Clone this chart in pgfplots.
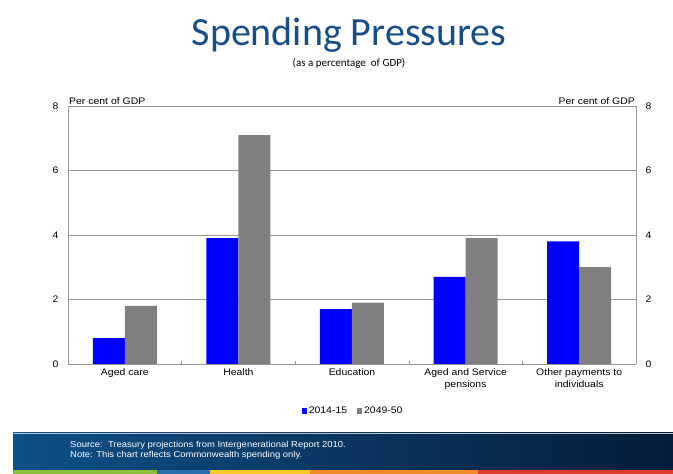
\documentclass[border=0pt]{standalone}
\usepackage{fontspec}
\setmainfont{Liberation Sans}[FakeStretch=1.1]
\newfontfamily\titlefont{Carlito}
\usepackage{pgfplots}
\usepackage{pgfplotstable}
\pgfplotsset{compat=1.18}

\definecolor{titleblue}{RGB}{22,78,138}
\definecolor{gridgrey}{RGB}{150,150,150}
\definecolor{barblue}{RGB}{0,0,255}
\definecolor{bargrey}{RGB}{128,128,128}
\definecolor{bandleft}{RGB}{14,80,135}
\definecolor{bandright}{RGB}{6,28,58}
\definecolor{stripgreen}{RGB}{140,190,60}
\definecolor{stripblue}{RGB}{40,110,170}
\definecolor{stripyellow}{RGB}{250,200,40}
\definecolor{striporange}{RGB}{240,140,40}
\definecolor{stripred}{RGB}{220,60,50}

% spending as % of GDP: 2014-15 (a), 2049-50 (b)
\pgfplotstableread{
x a b
0 0.8 1.8
1 3.9 7.1
2 1.7 1.9
3 2.7 3.9
4 3.8 3.0
}\spending

\begin{document}
\begin{tikzpicture}[x=1pt,y=1pt]
\useasboundingbox (0,0) rectangle (673,474);
\fill[white] (0,0) rectangle (673,474);

\node[titleblue] at (349,474-35) {\titlefont\fontsize{40}{40}\selectfont Spending Pressures};
\node at (349,474-63) {\titlefont\fontsize{11}{12}\selectfont (as a percentage\ \ of GDP)};

\begin{axis}[
    at={(68pt,110pt)}, anchor=south west,
    scale only axis, width=568pt, height=258pt,
    xmin=-0.5, xmax=4.5, ymin=0, ymax=8,
    ybar=0pt, bar width=32pt,
    xtick={0,...,4},
    xticklabels={Aged care,Health,Education,{Aged and Service\\pensions},{Other payments to\\individuals}},
    xticklabel style={align=center, font=\fontsize{9.5}{12}\selectfont, yshift=-1pt},
    extra x ticks={0.5,1.5,2.5,3.5}, extra x tick labels={},
    extra x tick style={major tick length=3pt, tick style={gridgrey}},
    major tick length=0pt,
    tick align=inside,
    ytick={0,2,4,6,8},
    yticklabel style={font=\fontsize{9.5}{10}\selectfont, xshift=-6pt},
    /pgf/number format/assume math mode=true,
    ymajorgrids, grid style={gridgrey, line width=0.8pt},
    axis line style={gridgrey, line width=0.8pt},
    axis x line*=bottom, axis y line*=left,
    legend style={at={(0.502,-0.15)}, anchor=north, draw=none, fill=none,
        font=\fontsize{9.5}{10}\selectfont, legend columns=2,
        /tikz/every even column/.append style={column sep=8pt}},
    legend image code/.code={\fill[#1] (0pt,-3pt) rectangle (5pt,2.5pt);},
    legend cell align=left,
    clip=false,
]
\addplot[fill=barblue, draw=none] table[x=x,y=a] {\spending};
\addplot[fill=bargrey, draw=none] table[x=x,y=b] {\spending};
\legend{2014-15,2049-50}
\node[anchor=south west, font=\fontsize{9.5}{10}\selectfont, inner sep=1pt] at (rel axis cs:0,1) {Per cent of GDP};
\node[anchor=south east, font=\fontsize{9.5}{10}\selectfont, inner sep=1pt] at (rel axis cs:1,1) {Per cent of GDP};
\draw[gridgrey, line width=0.8pt] (rel axis cs:0,1) -- (rel axis cs:1,1);
\end{axis}
\begin{axis}[
    at={(68pt,110pt)}, anchor=south west,
    scale only axis, width=568pt, height=258pt,
    xmin=-0.5, xmax=4.5, ymin=0, ymax=8,
    axis x line=none, axis y line*=right,
    ytick={0,2,4,6,8}, major tick length=0pt,
    yticklabel style={font=\fontsize{9.5}{10}\selectfont, xshift=6pt},
    /pgf/number format/assume math mode=true,
    axis line style={gridgrey, line width=0.8pt},
]
\addplot[draw=none] coordinates {(0,0)};
\end{axis}

% footer band
\shade[left color=bandleft, right color=bandright] (13,474-470) rectangle (673,474-433);
\draw[gridgrey!60] (13,474-433) -- (673,474-433);
\node[anchor=west, white, font=\fontsize{8.6}{9}\selectfont, inner sep=0pt] at (70,474-445) {Source:\ \ Treasury projections from Intergenerational Report 2010.};
\node[anchor=west, white, font=\fontsize{8.6}{9}\selectfont, inner sep=0pt] at (70,474-455) {Note: This chart reflects Commonwealth spending only.};
\fill[stripgreen] (13,0) rectangle (157,4);
\fill[stripblue] (157,0) rectangle (210,4);
\fill[stripyellow] (210,0) rectangle (310,4);
\fill[striporange] (310,0) rectangle (478,4);
\fill[stripred] (478,0) rectangle (673,4);
\end{tikzpicture}
\end{document}
